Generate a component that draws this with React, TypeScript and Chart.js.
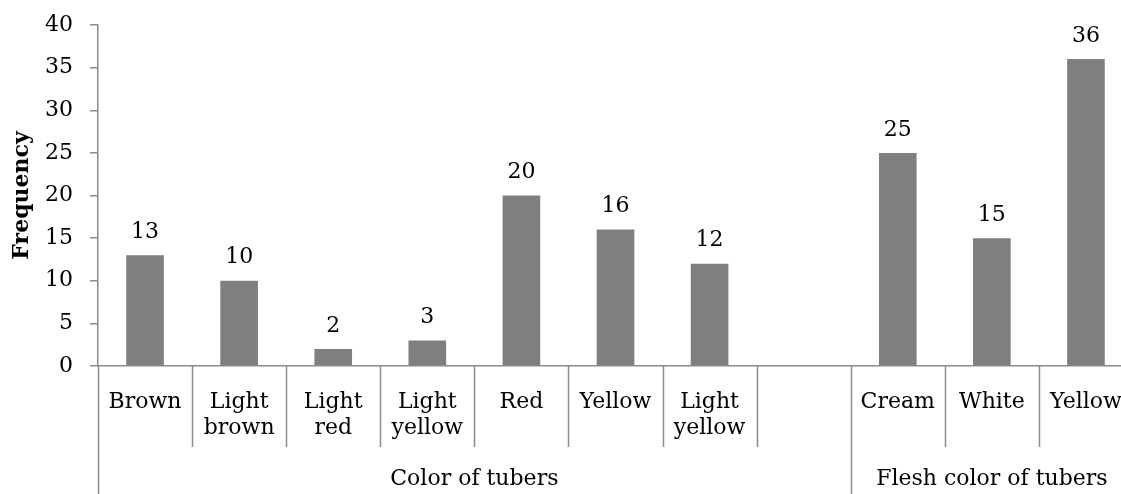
import React, { useEffect, useRef } from "react";
import { Chart, registerables } from "chart.js";

Chart.register(...registerables);

const categories: (string | string[])[] = [
  "Brown",
  ["Light", "brown"],
  ["Light", "red"],
  ["Light", "yellow"],
  "Red",
  "Yellow",
  ["Light", "yellow"],
  "",
  "Cream",
  "White",
  "Yellow",
];
const frequencies: (number | null)[] = [13, 10, 2, 3, 20, 16, 12, null, 25, 15, 36];
const groupNames = ["Color of tubers", "Flesh color of tubers"];
const groupStarts = [0, 8];
const yTicks = [0, 5, 10, 15, 20, 25, 30, 35, 40];

const FONT_FAMILY = "'DejaVu Serif', serif";
const AXIS_COLOR = "#8c8c8c";
const BAR_COLOR = "#7f7f7f";

const valueLabelPlugin = {
  id: "valueLabels",
  afterDatasetsDraw(chart: any) {
    const ctx = chart.ctx;
    const meta = chart.getDatasetMeta(0);
    ctx.save();
    ctx.font = `22px ${FONT_FAMILY}`;
    ctx.fillStyle = "#000";
    ctx.textAlign = "center";
    ctx.textBaseline = "middle";
    meta.data.forEach((el: any, i: number) => {
      const v = frequencies[i];
      if (v === null || v === undefined) return;
      ctx.fillText(String(v), el.x, el.y - 23);
    });
    ctx.restore();
  },
};

const groupAxisPlugin = {
  id: "groupAxis",
  afterDraw(chart: any) {
    const ctx = chart.ctx;
    const x = chart.scales.x;
    const top = x.top;
    const bottom = chart.height;
    const n = categories.length;
    ctx.save();
    ctx.strokeStyle = AXIS_COLOR;
    ctx.lineWidth = 1.5;
    for (let b = 0; b <= n; b++) {
      const px = Math.round(x.getPixelForValue(b - 0.5)) + 0.5;
      const isGroup = groupStarts.includes(b) || b === n;
      const end = isGroup ? bottom : top + 81;
      ctx.beginPath();
      ctx.moveTo(px, top);
      ctx.lineTo(px, end);
      ctx.stroke();
    }
    ctx.font = `22px ${FONT_FAMILY}`;
    ctx.fillStyle = "#000";
    ctx.textAlign = "center";
    ctx.textBaseline = "middle";
    groupNames.forEach((name, g) => {
      const s = groupStarts[g];
      const e = g + 1 < groupStarts.length ? groupStarts[g + 1] : n;
      const left = x.getPixelForValue(s - 0.5);
      const right = x.getPixelForValue(e - 0.5);
      ctx.fillText(name, (left + right) / 2, top + 113);
    });
    ctx.restore();
  },
};

export default function App() {
  const ref = useRef<HTMLCanvasElement>(null);
  useEffect(() => {
    document.body.style.margin = "0";
    document.body.style.overflow = "hidden";
    const chart = new Chart(ref.current!, {
      type: "bar",
      data: {
        labels: categories as any,
        datasets: [
          {
            data: frequencies,
            backgroundColor: BAR_COLOR,
            borderWidth: 0,
            categoryPercentage: 1,
            barPercentage: 0.4,
          },
        ],
      },
      options: {
        responsive: false,
        animation: false,
        devicePixelRatio: 1,
        layout: { padding: { top: 25, left: 0, right: 0, bottom: 0 } },
        plugins: { legend: { display: false }, tooltip: { enabled: false } },
        scales: {
          x: {
            offset: true,
            grid: { display: false, drawTicks: true, tickLength: 24 },
            border: { display: true, color: AXIS_COLOR, width: 1.5 },
            ticks: {
              color: "#000",
              font: { family: FONT_FAMILY, size: 22, lineHeight: 1.15 },
              padding: 0,
              maxRotation: 0,
              autoSkip: false,
            },
            afterFit: (s: any) => {
              s.height = 128;
            },
          },
          y: {
            min: 0,
            max: 40,
            afterBuildTicks: (s: any) => {
              s.ticks = yTicks.map((v) => ({ value: v }));
            },
            grid: {
              drawOnChartArea: false,
              drawTicks: true,
              tickLength: 8,
              color: AXIS_COLOR,
              lineWidth: 1.5,
            },
            border: { display: true, color: AXIS_COLOR, width: 1.5 },
            ticks: {
              color: "#000",
              font: { family: FONT_FAMILY, size: 22, lineHeight: 0.7 },
              padding: 17,
            },
            title: {
              display: true,
              text: "Frequency",
              color: "#000",
              font: { family: FONT_FAMILY, size: 22, weight: "bold" },
              padding: { top: 9, bottom: 0 },
            },
            afterFit: (s: any) => {
              s.width = 98;
            },
          },
        },
      },
      plugins: [valueLabelPlugin, groupAxisPlugin],
    });
    return () => chart.destroy();
  }, []);
  return (
    <div style={{ width: 1121, height: 494, overflow: "hidden" }}>
      <canvas ref={ref} width={1133} height={494} style={{ display: "block" }} />
    </div>
  );
}
